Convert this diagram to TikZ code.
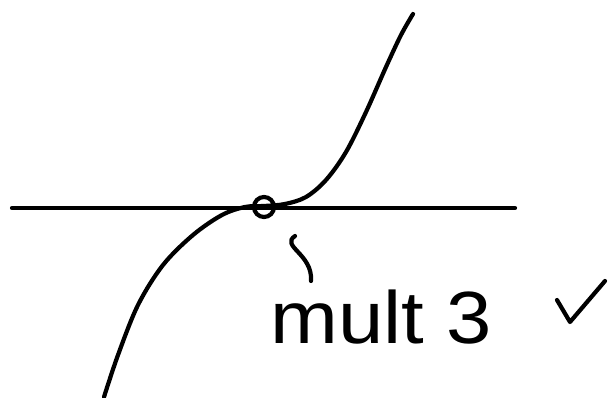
\documentclass[tikz,border=0pt]{standalone}
\usepackage{fontspec}
\setmainfont{Liberation Sans}
\begin{document}
\begin{tikzpicture}[x=1pt,y=-1pt,
  ink/.style={line width=4.2pt,line cap=round,line join=round,black}]
\useasboundingbox (0,0) rectangle (616,398);
\fill[white] (0,0) rectangle (616,398);
% axis
\coordinate (axL) at (12,208);
\coordinate (axR) at (515,208);
\draw[ink] (axL) -- (axR);
% cubic curve
\draw[ink] plot[smooth,tension=0.55] coordinates {(104,397) (118,355) (138,305) (163,265) (193,235) (222,215) (245,207) (264,206) (285,204) (306,197) (326,180) (346,152) (366,112) (386,67) (401,35) (413,14)};
% root circle
\node[draw,ink,circle,minimum size=20pt,inner sep=0pt] (root) at (264,207) {};
% squiggle pointer
\coordinate (sqA) at (295,236);
\coordinate (sqB) at (311,281);
\draw[ink] (sqA) .. controls (280,246) and (313,254) .. (sqB);
% label
\node[anchor=base west,inner sep=0pt,xscale=1.1,font=\fontsize{74}{80}\selectfont] (lbl) at (270,343) {mult 3};
% check mark
\coordinate (ckA) at (557,300);
\coordinate (ckB) at (570,322);
\coordinate (ckC) at (605,281);
\draw[ink] (ckA) -- (ckB) -- (ckC);
\end{tikzpicture}
\end{document}
